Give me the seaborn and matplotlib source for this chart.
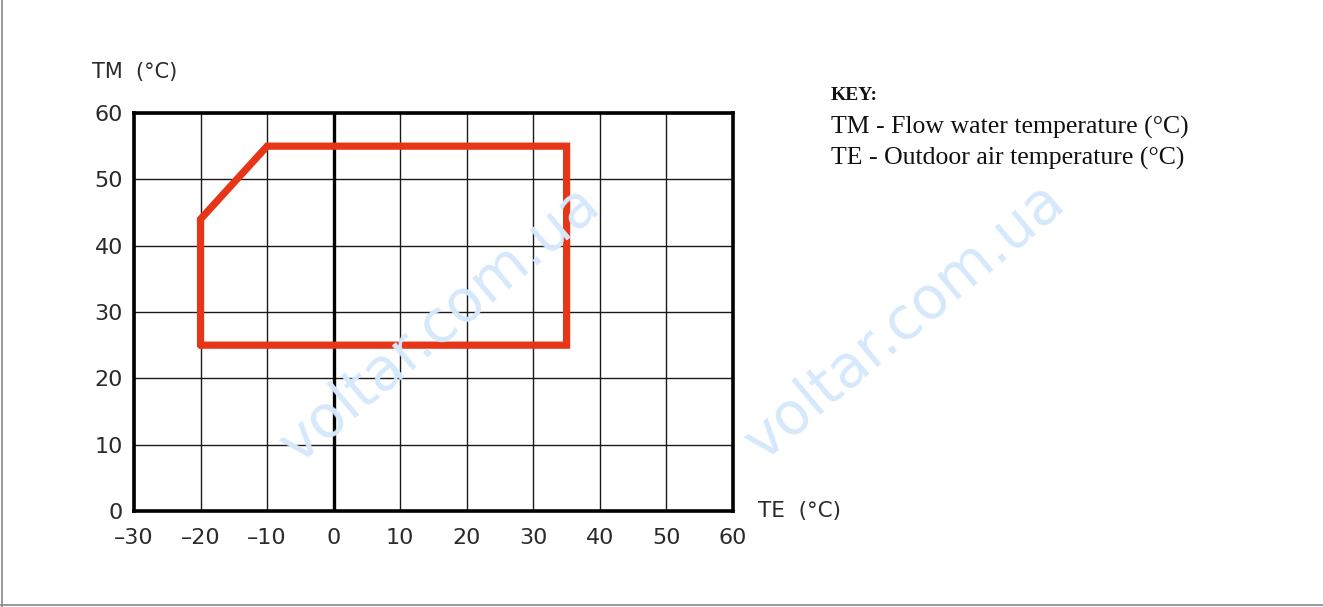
import pandas as pd
import matplotlib.pyplot as plt
import seaborn as sns

# operating envelope (outdoor air TE vs flow water TM)
te = [-20, -20, -10, 35, 35, -20]
tm = [25, 44, 55, 55, 25, 25]
x_ticks = [-30, -20, -10, 0, 10, 20, 30, 40, 50, 60]
y_ticks = [0, 10, 20, 30, 40, 50, 60]
key_lines = ['TM - Flow water temperature (°C)', 'TE - Outdoor air temperature (°C)']

sns.set_style('white')
plt.rcParams['font.family'] = ['DejaVu Sans']

fig = plt.figure(figsize=(13.23, 6.07), dpi=100)

# watermark
for cx, cy in [(440, 325), (905, 322)]:
    fig.text(cx / 1323, 1 - cy / 607, 'voltar.com.ua', fontsize=42, color='#d6e9fc',
             rotation=40, ha='center', va='center', zorder=0)

ax = fig.add_axes([134 / 1323, 1 - 511 / 607, 599 / 1323, 398 / 607])
ax.patch.set_alpha(0)

env = pd.DataFrame({'TE': te, 'TM': tm})
sns.lineplot(data=env, x='TE', y='TM', sort=False, estimator=None, ax=ax,
             color='#e63517', linewidth=5.2, zorder=5)
ax.lines[-1].set_solid_joinstyle('miter')

ax.set_xlim(-30, 60)
ax.set_ylim(0, 60)
ax.set_xticks(x_ticks)
ax.set_yticks(y_ticks)
ax.set_xticklabels([str(v).replace('-', '\u2013') for v in x_ticks])
ax.grid(True, color='#1a1a1a', linewidth=1.0)
ax.axvline(0, color='black', linewidth=2.4, zorder=3)
for s in ax.spines.values():
    s.set_visible(True)
    s.set_color('black')
    s.set_linewidth(2.6)
ax.tick_params(length=0, labelsize=16, colors='#2a2a2a')
ax.tick_params(axis='x', pad=12)
ax.tick_params(axis='y', pad=8)
ax.set_xlabel('')
ax.set_ylabel('')

fig.text(92 / 1323, 1 - 72 / 607, 'TM  (°C)', fontsize=15, color='#2a2a2a', va='center')
fig.text(758 / 1323, 1 - 511 / 607, 'TE  (°C)', fontsize=15.5, color='#2a2a2a', va='center')

fig.text(831 / 1323, 1 - 95 / 607, 'KEY:', fontsize=14, fontweight='bold',
         family='Liberation Serif', va='center', color='#111111')
for i, line in enumerate(key_lines):
    fig.text(831 / 1323, 1 - (127 + 31 * i) / 607, line, fontsize=18.5,
             family='Liberation Serif', va='center', color='#111111')

# page frame (left and bottom edges)
fig.add_artist(plt.Line2D([1.5 / 1323, 1.5 / 1323], [0, 1], color='#888888', linewidth=1.2))
fig.add_artist(plt.Line2D([0, 1], [1 - 605 / 607, 1 - 605 / 607], color='#888888', linewidth=1.2))

fig.savefig('out.png', dpi=100)
